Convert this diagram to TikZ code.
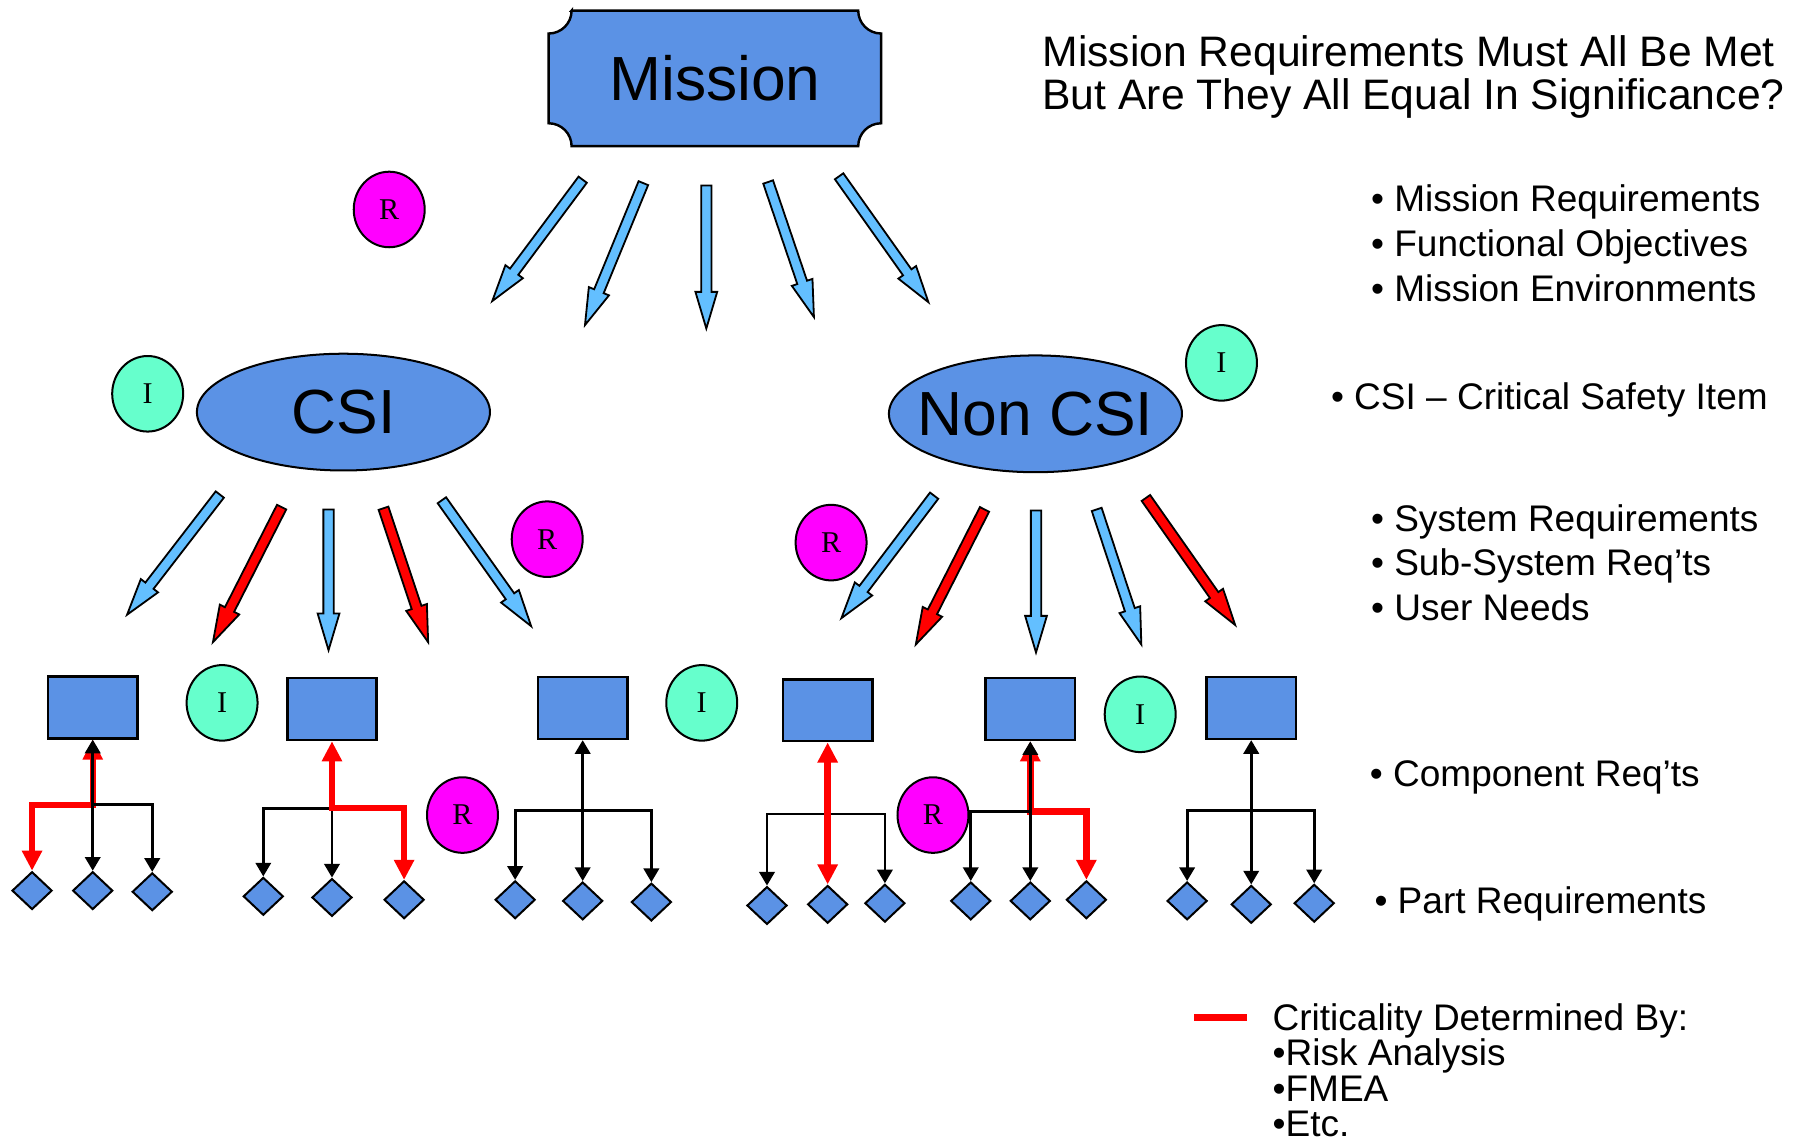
\documentclass[tikz,border=0pt]{standalone}
\usepackage{fontspec}
\setmainfont{Liberation Sans}
\newfontfamily\circfont{Liberation Serif}
\usepackage{xcolor}
\usetikzlibrary{arrows.meta, calc, shapes.geometric, backgrounds}

\definecolor{nodeblue}{RGB}{91,146,229}
\definecolor{skyarrow}{RGB}{99,191,255}
\definecolor{critred}{RGB}{255,0,0}
\definecolor{riskpink}{RGB}{255,0,255}
\definecolor{itemmint}{RGB}{102,255,204}

% block arrow from tail #2 to tip #3, filled with #1
\newcommand{\fatarrow}[3]{%
    \coordinate (fa-neck) at ($#3!3.2mm!#2$);
    \draw[fatline, fill=#1] ($#2!0.45mm!90:#3$) -- ($(fa-neck)!0.45mm!-90:#2$)
        -- ($(fa-neck)!0.95mm!-90:#2$) -- #3 -- ($(fa-neck)!0.95mm!90:#2$)
        -- ($(fa-neck)!0.45mm!90:#2$) -- ($#2!0.45mm!-90:#3$) -- cycle;
}

\tikzset{
    reqtree/.style={x=0.1mm, y=-0.1mm, font=\fontsize{9.2}{11.2}\selectfont},
    bigbox/.style={minimum width=28.9mm, minimum height=11.7mm, inner sep=0pt, font=\fontsize{15.5}{18}\selectfont},
    bigoval/.style={draw, ellipse, fill=nodeblue, line width=0.5pt, minimum width=25.6mm, minimum height=10.2mm,
        inner xsep=-2mm, inner ysep=0pt, font=\fontsize{15.5}{18}\selectfont},
    compbox/.style={draw, fill=nodeblue, line width=0.6pt, minimum width=7.8mm, minimum height=5.4mm, inner sep=0pt},
    partbox/.style={draw, diamond, fill=nodeblue, line width=0.5pt, minimum width=3.5mm, minimum height=3.3mm, inner sep=0pt},
    tagmark/.style={draw, ellipse, line width=0.5pt, minimum width=6.2mm, minimum height=6.6mm, inner sep=0pt,
        font=\circfont\fontsize{7.5}{9}\selectfont},
    riskmark/.style={tagmark, fill=riskpink},
    itemmark/.style={tagmark, fill=itemmint},
    fatline/.style={draw=black, line width=0.45pt, line join=miter},
    flowline/.style={draw, line width=0.7pt, >={Triangle[length=3.4pt, width=3.8pt]}},
    critline/.style={draw=critred, line width=1.6pt, >={Triangle[length=5pt, width=4.8pt]}},
    notetext/.style={anchor=base west, inner sep=0pt},
}

\begin{document}
\begin{tikzpicture}[reqtree]
    \useasboundingbox (0,0) rectangle (1568,996);

    % levels
    \node[bigbox] (mission) at (624.5,68.5) {Mission};
    \begin{scope}[on background layer]
        \draw[fill=nodeblue, line width=0.6pt]
            ([xshift=2mm]mission.north west) -- ([xshift=-2mm]mission.north east)
            arc[start angle=180, end angle=90, radius=20]
            -- ([yshift=2mm]mission.south east) arc[start angle=270, end angle=180, radius=20]
            -- ([xshift=2mm]mission.south west) arc[start angle=0, end angle=-90, radius=20]
            -- ([yshift=-2mm]mission.north west) arc[start angle=90, end angle=0, radius=20]
            -- cycle;
    \end{scope}
    \node[bigoval] (csi)    at (300,360)   {CSI};
    \node[bigoval] (noncsi) at (904.5,361.5) {Non CSI};

    \node[compbox] (b1) at (81,618)   {};
    \node[compbox] (b2) at (290,619.5) {};
    \node[compbox] (b3) at (509,618.5) {};
    \node[compbox] (b4) at (723,620.5) {};
    \node[compbox] (b5) at (900,619.5) {};
    \node[compbox] (b6) at (1093,618.5) {};

    \foreach \n/\x/\y in {p11/28/778, p12/81/778, p13/133/779, p21/230/783, p22/290/784, p23/353/786,
                          p31/450/786, p32/509/787, p33/569/788, p41/670/791, p42/723/790, p43/773/789,
                          p51/848/787, p52/900/787, p53/949/786, p61/1037/787, p62/1093/790, p63/1148/789}
        \node[partbox] (\n) at (\x,\y) {};

    \foreach \n/\x/\y in {j1/81/703, j2/290/706, j3/509/708, j4/723/711, j5/900/709, j6/1093/708}
        \coordinate (\n) at (\x,\y);

    % fan-out arrows
    \foreach \ax/\ay/\bx/\by/\col in {509/157/430/263/skyarrow, 562/160/511/284/skyarrow, 617/162/617/287/skyarrow,
            671/159/711/277/skyarrow, 733/154/811/264/skyarrow,
            192/432/111/537/skyarrow, 246/443/186/561/critred, 287/445/287/568/skyarrow,
            335/444/374/561/critred, 386/437/464/547/skyarrow,
            816/433/735/540/skyarrow, 860/445/800/563/critred, 905/446/905/570/skyarrow,
            958/445/997/563/skyarrow, 1001/435/1079/546/critred}
        \fatarrow{\col}{(\ax,\ay)}{(\bx,\by)};

    % component trees
    \draw[critline, <->] (b1.south) -- (j1) -| (p11.north);
    \draw[flowline, <->] (b1.south) -- (j1) -| (p13.north);
    \draw[flowline, ->] (j1) -- (p12.north);

    \draw[flowline, <->] (p21.north) |- (j2) -- (p22.north);
    \draw[critline, <->] (b2.south) -- (j2) -| (p23.north);

    \draw[flowline, <->] (p31.north) |- (j3) -| (p33.north);
    \draw[flowline, <->] (b3.south) -- (p32.north);

    \draw[flowline, <->] (p41.north) |- (j4) -| (p43.north);
    \draw[critline, <->] (b4.south) -- (p42.north);

    \draw[critline, <->] (b5.south) -- (j5) -| (p53.north);
    \draw[flowline, <->] (b5.south) -- (j5) -| (p51.north);
    \draw[flowline, ->] (j5) -- (p52.north);

    \draw[flowline, <->] (p61.north) |- (j6) -| (p63.north);
    \draw[flowline, <->] (b6.south) -- (p62.north);

    % R and I marks
    \node[riskmark] (r1) at (340,183) {R};
    \node[riskmark] (r2) at (478,471) {R};
    \node[riskmark] (r3) at (726,474) {R};
    \node[riskmark] (r4) at (404,712) {R};
    \node[riskmark] (r5) at (815,712) {R};
    \node[itemmark] (i1) at (129,344) {I};
    \node[itemmark] (i2) at (1067,317) {I};
    \node[itemmark] (i3) at (194,614) {I};
    \node[itemmark] (i4) at (613,614) {I};
    \node[itemmark] (i5) at (996,624) {I};

    % text column
    \node[notetext, font=\fontsize{10.6}{10.7}\selectfont] (title1) at (910,58) {Mission Requirements Must All Be Met};
    \node[notetext, font=\fontsize{10.6}{10.7}\selectfont] (title2) at (910,96) {But Are They All Equal In Significance?};

    \foreach \txt [count=\i] in {Mission Requirements, Functional Objectives, Mission Environments}
        \node[notetext] (goal\i) at (1197,146+39*\i) {\textbullet\ \txt};
    \node[notetext] (csidef) at (1162,358) {\textbullet\ CSI – Critical Safety Item};
    \foreach \txt [count=\i] in {System Requirements, Sub-System Req’ts, User Needs}
        \node[notetext] (sys\i) at (1197,425+39*\i) {\textbullet\ \txt};
    \node[notetext] (compreq) at (1196,687) {\textbullet\ Component Req’ts};
    \node[notetext] (partreq) at (1200,798) {\textbullet\ Part Requirements};

    % legend
    \coordinate (leg-a) at (1043,889);
    \coordinate (leg-b) at (1089,889);
    \draw[critred, line width=1.6pt] (leg-a) -- (leg-b);
    \node[notetext] (legend0) at (1111,900) {Criticality Determined By:};
    \foreach \txt [count=\i] in {Risk Analysis, FMEA, Etc.}
        \node[notetext] (legend\i) at (1111,900+31*\i) {\textbullet\txt};
\end{tikzpicture}
\end{document}
